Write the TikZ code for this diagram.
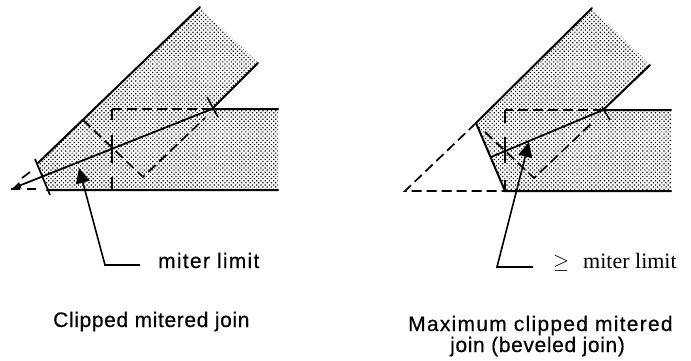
\documentclass[tikz,border=0pt]{standalone}
\usepackage{fontspec}
\setmainfont{Liberation Sans}
\newfontfamily\serifpart{Liberation Serif}
\newfontfamily\spaceda[LetterSpace=3,FakeBold=0.4]{Liberation Sans}
\newfontfamily\spacedb[LetterSpace=6,FakeBold=0.4]{Liberation Sans}
\usetikzlibrary{patterns.meta,arrows.meta}
\tikzset{
 band/.style={pattern={Dots[distance=3pt,angle=45,radius=0.85pt]},pattern color=black},
 edge/.style={line width=2pt,line cap=round},
 thinedge/.style={line width=1.7pt},
 dashline/.style={line width=1.7pt,dash pattern=on 10pt off 5pt},
 tickline/.style={line width=1.6pt},
 pointer/.style={line width=1.6pt,-{Triangle[length=15pt,width=14pt]}},
 lab/.style={font=\fontsize{21}{24}\selectfont,inner sep=0pt,align=center}
}
\begin{document}
\begin{tikzpicture}[x=1pt,y=-1pt]
\useasboundingbox (0,0) rectangle (691,361);
% left figure
\coordinate (a1) at (38,163);
\coordinate (a2) at (200,7);
\coordinate (a3) at (258,63);
\coordinate (a4) at (212,109);
\coordinate (a5) at (278,109);
\coordinate (a6) at (278,190);
\coordinate (a7) at (47,190);
\coordinate (atip) at (11,189);
\fill[band] (a1)--(a2)--(a3)--(a4)--(a5)--(a6)--(a7)--cycle;
\draw[edge] (a1)--(a2) (a3)--(a4)--(a5) (a6)--(a7);
\draw[thinedge] (35,159)--(50,195);
\draw[dashline] (a4)--(112,109);
\draw[thinedge] (112,109)--(112,120) (112,135)--(112,163) (112,177)--(112,190);
\draw[dashline] (83,120)--(143,177)--(205,118);
\draw[thinedge] (11,189)--(20,189) (27,189)--(36,189) (22,178)--(30,172);
\draw[line width=1.8pt,-{Latex[length=10pt,width=7pt]}] (a4)--(atip);
\draw[tickline] (207,97)--(218,117);
\coordinate (ap) at (79,168);
\coordinate (ab) at (105,265);
\coordinate (ae) at (140,265);
\draw[pointer] (ae)--(ab)--(ap);
\node[lab,anchor=base west] (al) at (158,268) {\spacedb miter limit};
\node[lab,anchor=base west] (ac1) at (53,327) {\spaceda Clipped mitered join};
% right figure
\coordinate (b1) at (476,123);
\coordinate (b2) at (592,8);
\coordinate (b3) at (650,65);
\coordinate (b4) at (603,110);
\coordinate (b5) at (671,110);
\coordinate (b6) at (671,191);
\coordinate (b7) at (505,191);
\coordinate (btip) at (405,191);
\fill[band] (b1)--(b2)--(b3)--(b4)--(b5)--(b6)--(b7)--cycle;
\draw[edge] (b1)--(b2) (b3)--(b4)--(b5) (b6)--(b7)--(b1);
\draw[dashline] (b4)--(505,110);
\draw[thinedge] (505,110)--(505,123) (505,137)--(505,163) (505,180)--(505,191);
\draw[dashline] (485,132)--(534,178)--(593,122);
\draw[dashline] (b1)--(btip)--(b7);
\draw[line width=1.8pt] (b4)--(491,157);
\draw[tickline] (602,107)--(610,120);
\coordinate (bp) at (529,142);
\coordinate (bb) at (497,267);
\coordinate (be) at (533,267);
\draw[pointer] (be)--(bb)--(bp);
\node[lab,anchor=base west] (bg) at (553,268) {$\geq$};
\node[lab,anchor=base west] (bl) at (583,268) {\fontsize{22}{24}\selectfont\serifpart miter limit};
\node[lab,anchor=base west] (bc1) at (408,331) {\spacedb Maximum clipped mitered};
\node[lab,anchor=base west] (bc2) at (450,352) {\spaceda join (beveled join)};
\end{tikzpicture}
\end{document}
